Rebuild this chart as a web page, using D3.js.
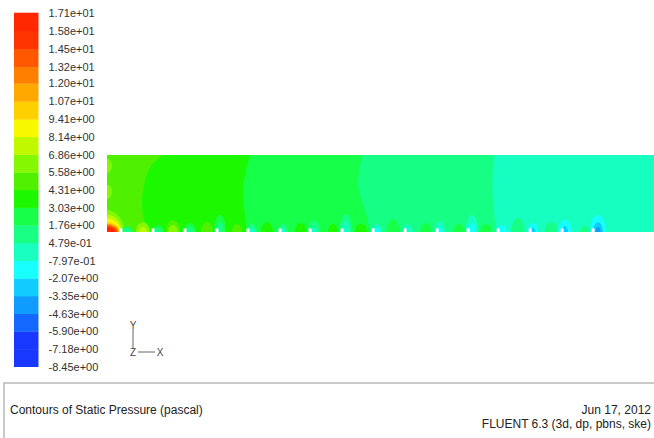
<!DOCTYPE html>
<html>
<head>
<meta charset="utf-8">
<script src="https://cdn.jsdelivr.net/npm/d3@7"></script>
<style>
  body { margin: 0; background: #fff; }
  svg { display: block; font-family: Arial, "Liberation Sans", sans-serif; }
</style>
</head>
<body>
<div id="chart"></div>
<script>
// contour levels (pascal), as printed on the colour bar, low -> high
const levels = [-8.45, -7.18, -5.90, -4.63, -3.35, -2.07, -0.797, 0.479, 1.76, 3.03, 4.31,
                5.58, 6.86, 8.14, 9.41, 10.7, 12.0, 13.2, 14.5, 15.8, 17.1];
const levelLabels = ["-8.45e+00", "-7.18e+00", "-5.90e+00", "-4.63e+00", "-3.35e+00", "-2.07e+00",
                     "-7.97e-01", "4.79e-01", "1.76e+00", "3.03e+00", "4.31e+00", "5.58e+00",
                     "6.86e+00", "8.14e+00", "9.41e+00", "1.07e+01", "1.20e+01", "1.32e+01",
                     "1.45e+01", "1.58e+01", "1.71e+01"];
// one colour per band between two levels
const bandColors = ["#1838ff", "#1838ff", "#1468ff", "#109cff", "#10ccff", "#18ffff",
                    "#18ffc0", "#18ff84", "#18ff48", "#1cf800", "#50f000", "#84f800",
                    "#c0f800", "#f8f800", "#ffd000", "#ffa800", "#ff8000", "#ff5800",
                    "#ff3400", "#ff2800"];

// background pressure along the channel: one value per zone,
// zone edges run from the top wall (y=140 mm) to the bottom wall (y=0)
const zoneValues = [5.0, 3.7, 2.4, 1.1, -0.16];
const zoneEdges = [
  [[102, 140], [82, 122], [70, 95], [64, 58], [66, 31], [73, 0]],
  [[262, 140], [254, 113], [249, 76], [251, 40], [256, 0]],
  [[467, 140], [461, 113], [459, 86], [465, 58], [474, 31], [481, 0]],
  [[708, 140], [705, 104], [705, 67], [708, 31], [712, 0]]
];

// local pressure spots: [x mm, y mm, half width mm, height mm, pressure]
const spots = [
  // inlet corner
  [0, 0, 31, 40, 6.2], [0, 0, 27, 31, 7.5], [0, 0, 25, 24, 8.8], [0, 0, 23, 18, 10.0],
  [0, 0, 22, 15, 11.3], [0, 0, 20, 13, 13.8], [0, 0, 16, 9, 16.0],
  // left wall
  [0, 120, 9, 13, 6.2], [0, 73, 9, 13, 6.2],
  // along the lower wall
  [36.6, 0, 11, 11, 2.4], [36.6, 0, 7.3, 7.3, 1.1],
  [65.8, 0, 12.8, 18.2, 6.2], [65.8, 0, 7.3, 9.1, 7.5],
  [93.2, 0, 11, 12.7, 2.4], [93.2, 0, 7.3, 7.3, 1.1],
  [120.7, 0, 12.8, 21.8, 5.0], [120.7, 0, 9.1, 12.7, 6.2],
  [151.7, 0, 11, 16.4, 2.4], [151.7, 0, 7.3, 9.1, 1.1],
  [182.8, 0, 11, 18.2, 5.0],
  [206.6, 0, 11, 30.9, 2.4], [206.6, 0, 7.3, 18.2, 1.1],
  [237.7, 0, 9.1, 14.5, 5.0],
  [265.1, 0, 9.1, 14.5, 1.1], [265.1, 0, 5.5, 7.3, -0.16],
  [292.5, 0, 11, 18.2, 3.7],
  [321.8, 0, 9.1, 14.5, 1.1], [321.8, 0, 5.5, 7.3, -0.16],
  [354.7, 0, 11, 16.4, 3.7],
  [378.4, 0, 11, 20, 1.1], [378.4, 0, 5.5, 9.1, -0.16],
  [413.1, 0, 9.1, 14.5, 3.7],
  [436.9, 0, 11.9, 32.7, 1.1], [436.9, 0, 7.3, 20, -0.16],
  [464.3, 0, 11, 14.5, 3.7],
  [493.6, 0, 9.1, 14.5, -0.16], [493.6, 0, 5.5, 7.3, -1.4],
  [522.8, 0, 11.9, 23.6, 2.4],
  [550.3, 0, 9.1, 14.5, -0.16],
  [583.2, 0, 11, 16.4, 2.4],
  [608.8, 0, 9.1, 20, -0.16], [608.8, 0, 5.5, 9.1, -1.4],
  [643.5, 0, 11, 14.5, 2.4],
  [667.3, 0, 11.9, 30.9, -0.16], [667.3, 0, 7.3, 16.4, -1.4],
  [692.9, 0, 11, 14.5, 2.4],
  [722.1, 0, 9.1, 12.7, -1.4],
  [751.4, 0, 11.9, 25.5, 1.1],
  [778.8, 0, 9.1, 16.4, -1.4], [778.8, 0, 4.6, 7.3, -2.7],
  [811.7, 0, 11.9, 18.2, 1.1],
  [837.3, 0, 12.8, 21.8, -1.4], [837.3, 0, 5.5, 10.9, -2.7],
  [873.9, 0, 9.1, 10.9, 1.1],
  [897.6, 0, 14.6, 30.9, -1.4], [897.6, 0, 9.1, 18.2, -2.7], [897.6, 0, 4.6, 9.1, -4.0]
];

// openings in the lower wall (x mm)
const holes = [25.6, 84.1, 142.6, 201.1, 257.8, 316.4, 371.2, 429.7, 486.5, 545.0,
               603.5, 660.2, 715.0, 773.5, 832.0, 888.7];

const W = 654, H = 438;
const svg = d3.select("#chart").append("svg")
  .attr("width", W)
  .attr("height", H);

const color = d3.scaleThreshold()
  .domain(levels.slice(1, -1))
  .range(bandColors);

// colour bar
const legendY = d3.scaleLinear()
  .domain([levels[0], levels[levels.length - 1]])
  .range([366.7, 12.7]);

svg.append("g")
  .selectAll("rect")
  .data(bandColors)
  .join("rect")
  .attr("x", 14)
  .attr("width", 24.5)
  .attr("y", (d, i) => legendY(levels[i + 1]))
  .attr("height", (d, i) => legendY(levels[i]) - legendY(levels[i + 1]) + 0.3)
  .attr("fill", d => d);

const legendAxis = svg.append("g")
  .attr("transform", "translate(38.5,0)")
  .call(d3.axisRight(legendY)
    .tickValues(levels)
    .tickFormat((d, i) => levelLabels[i])
    .tickSize(0)
    .tickPadding(10));
legendAxis.select(".domain").remove();
legendAxis.selectAll("text")
  .attr("fill", "#333")
  .style("font-size", "11px")
  .style("font-family", "Arial, 'Liberation Sans', sans-serif");

// channel
const x = d3.scaleLinear().domain([0, 1000]).range([107, 654]);
const y = d3.scaleLinear().domain([0, 140]).range([232, 155]);

const defs = svg.append("defs");
defs.append("clipPath").attr("id", "clip")
  .append("rect")
  .attr("x", x(0)).attr("y", y(140))
  .attr("width", x(1000) - x(0)).attr("height", y(0) - y(140));
defs.append("filter").attr("id", "soft")
  .append("feGaussianBlur").attr("stdDeviation", 0.6);

const field = svg.append("g").attr("filter", "url(#soft)")
  .append("g").attr("clip-path", "url(#clip)");

field.append("rect")
  .attr("x", x(0)).attr("y", y(140))
  .attr("width", x(1000) - x(0)).attr("height", y(0) - y(140))
  .attr("fill", color(zoneValues[0]));

const edgeLine = d3.line()
  .x(d => x(d[0]))
  .y(d => y(d[1]))
  .curve(d3.curveCatmullRom);

field.selectAll("path.zone")
  .data(zoneEdges)
  .join("path")
  .attr("class", "zone")
  .attr("d", d => edgeLine(d) + `L${x(1000)},${y(0)}L${x(1000)},${y(140)}Z`)
  .attr("fill", (d, i) => color(zoneValues[i + 1]));

field.selectAll("ellipse")
  .data(spots)
  .join("ellipse")
  .attr("cx", d => x(d[0]))
  .attr("cy", d => y(d[1]))
  .attr("rx", d => x(d[2]) - x(0))
  .attr("ry", d => y(0) - y(d[3]))
  .attr("fill", d => color(d[4]));

svg.append("g")
  .selectAll("rect")
  .data(holes)
  .join("rect")
  .attr("x", d => x(d) - 1.5)
  .attr("y", y(0) - 3.5)
  .attr("width", 3)
  .attr("height", 4)
  .attr("fill", "#fff");

// axis triad
const triad = svg.append("g")
  .attr("fill", "#444")
  .attr("stroke", "#666")
  .style("font-size", "10px");
triad.append("line").attr("x1", 133).attr("x2", 133).attr("y1", 329).attr("y2", 348);
triad.append("line").attr("x1", 138).attr("x2", 155).attr("y1", 352).attr("y2", 352);
triad.append("text").attr("x", 133).attr("y", 325).attr("dy", "0.35em")
  .attr("text-anchor", "middle").attr("stroke", "none").text("Y");
triad.append("text").attr("x", 133).attr("y", 352).attr("dy", "0.35em")
  .attr("text-anchor", "middle").attr("stroke", "none").text("Z");
triad.append("text").attr("x", 160).attr("y", 352).attr("dy", "0.35em")
  .attr("text-anchor", "middle").attr("stroke", "none").text("X");

// title box
svg.append("rect")
  .attr("x", 4).attr("y", 383)
  .attr("width", 700).attr("height", 80)
  .attr("fill", "none")
  .attr("stroke", "#b8b8b8")
  .attr("stroke-width", 1.5);

const info = svg.append("g").attr("fill", "#222").style("font-size", "12px");
info.append("text").attr("x", 10).attr("y", 414).text("Contours of Static Pressure (pascal)");
info.append("text").attr("x", 651).attr("y", 414).attr("text-anchor", "end").text("Jun 17, 2012");
info.append("text").attr("x", 651).attr("y", 428).attr("text-anchor", "end").text("FLUENT 6.3 (3d, dp, pbns, ske)");
</script>
</body>
</html>
